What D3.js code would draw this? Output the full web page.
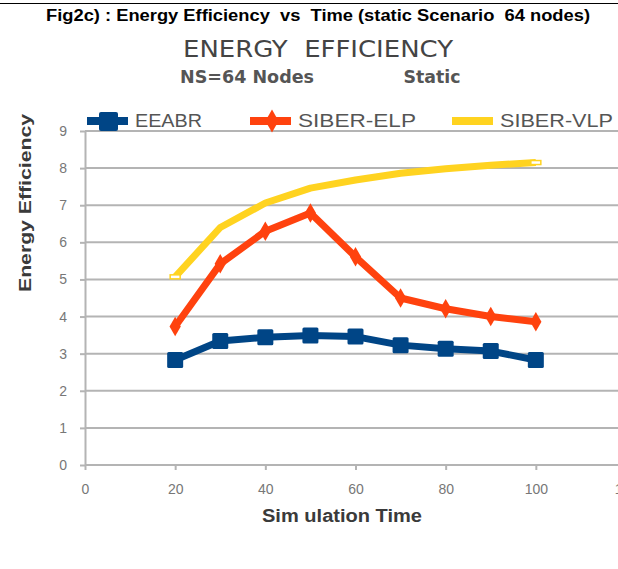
<!DOCTYPE html>
<html>
<head>
<meta charset="utf-8">
<script src="https://cdn.jsdelivr.net/npm/d3@7"></script>
<style>
  html, body { margin: 0; padding: 0; background: #fff; }
  svg { display: block; }
  text { white-space: pre; }
</style>
</head>
<body>
<div id="chart"></div>
<script>
// Simulation time (x) and energy efficiency per protocol
const simTime = [20, 30, 40, 50, 60, 70, 80, 90, 100];
const eeabr   = [2.83, 3.34, 3.44, 3.49, 3.46, 3.23, 3.13, 3.07, 2.83];
const siberElp = [3.73, 5.42, 6.30, 6.79, 5.61, 4.50, 4.21, 4.00, 3.86];
const siberVlp = [5.07, 6.40, 7.06, 7.46, 7.68, 7.86, 7.98, 8.08, 8.15];

const seriesNames = ["EEABR", "SIBER-ELP", "SIBER-VLP"];
const seriesColors = ["#004586", "#ff420e", "#ffd320"];
const xTicks = [0, 20, 40, 60, 80, 100, 120];
const yTicks = [0, 1, 2, 3, 4, 5, 6, 7, 8, 9];

const figTitle = "Fig2c) : Energy Efficiency  vs  Time (static Scenario  64 nodes)";
const chartTitle = "ENERGY  EFFICIENCY";
const subLeft = "NS=64 Nodes";
const subRight = "Static";
const yTitle = "Energy Efficiency";
const xTitle = "Sim ulation Time";

const SANS = "'Liberation Sans', Arial, Helvetica, sans-serif";
const NARROW = "'Liberation Sans Narrow', 'DejaVu Sans Condensed', sans-serif";

const W = 618, H = 569;
const svg = d3.select("#chart").append("svg")
  .attr("width", W).attr("height", H)
  .style("font-family", SANS);

const x = d3.scaleLinear().domain([0, 120]).range([85, 626]);
const y = d3.scaleLinear().domain([0, 9]).range([465, 131]);

// Figure caption with rule above it
svg.append("line").attr("x1", 0).attr("x2", W).attr("y1", 3.5).attr("y2", 3.5)
  .attr("stroke", "#000").attr("stroke-width", 1);
svg.append("text").attr("x", 318).attr("y", 21)
  .attr("text-anchor", "middle").attr("font-weight", "bold").attr("font-size", 16)
  .attr("font-family", SANS).attr("fill", "#000")
  .attr("textLength", 544).attr("lengthAdjust", "spacingAndGlyphs")
  .text(figTitle);

// Chart titles
svg.append("text").attr("x", 318).attr("y", 57)
  .attr("text-anchor", "middle").attr("font-size", 23).attr("fill", "#444")
  .attr("font-family", NARROW)
  .attr("textLength", 270).attr("lengthAdjust", "spacingAndGlyphs")
  .text(chartTitle);
svg.append("text").attr("x", 247).attr("y", 83)
  .attr("text-anchor", "middle").attr("font-size", 18).attr("fill", "#555")
  .attr("font-family", NARROW).attr("font-weight", "bold")
  .attr("textLength", 134).attr("lengthAdjust", "spacingAndGlyphs")
  .text(subLeft);
svg.append("text").attr("x", 432).attr("y", 83)
  .attr("text-anchor", "middle").attr("font-size", 18).attr("fill", "#555")
  .attr("font-family", NARROW).attr("font-weight", "bold")
  .attr("textLength", 57).attr("lengthAdjust", "spacingAndGlyphs")
  .text(subRight);

// Horizontal gridlines
svg.append("g").selectAll("line").data(yTicks.filter(d => d > 0)).join("line")
  .attr("x1", x(0)).attr("x2", x(120))
  .attr("y1", d => y(d)).attr("y2", d => y(d))
  .attr("stroke", "#b4b4b4").attr("stroke-width", 2);

// Axes
const gx = svg.append("g").attr("transform", `translate(0,${y(0)})`)
  .call(d3.axisBottom(x).tickValues(xTicks).tickSize(5).tickSizeOuter(0).tickPadding(14));
const gy = svg.append("g").attr("transform", `translate(${x(0)},0)`)
  .call(d3.axisLeft(y).tickValues(yTicks).tickSize(5).tickSizeOuter(0).tickPadding(13));
[gx, gy].forEach(g => {
  g.select(".domain").attr("stroke", "#b4b4b4").attr("stroke-width", 2);
  g.selectAll(".tick line").attr("stroke", "#b4b4b4").attr("stroke-width", 2);
  g.selectAll(".tick text").attr("fill", "#777").attr("font-size", 14)
    .attr("font-family", SANS);
});
gx.select(".domain").attr("d", `M${x(0)},0H${x(120)}`);

// Axis titles
svg.append("text")
  .attr("transform", `translate(31,203) rotate(-90)`)
  .attr("text-anchor", "middle").attr("font-size", 17).attr("font-weight", "bold")
  .attr("fill", "#3a3a3a")
  .attr("textLength", 178).attr("lengthAdjust", "spacingAndGlyphs")
  .text(yTitle);
svg.append("text").attr("x", 342).attr("y", 522)
  .attr("text-anchor", "middle").attr("font-size", 18).attr("font-weight", "bold")
  .attr("fill", "#3a3a3a")
  .attr("textLength", 160).attr("lengthAdjust", "spacingAndGlyphs")
  .text(xTitle);

// Series lines
const line = d3.line().x(d => x(d[0])).y(d => y(d[1]));
const seriesData = [eeabr, siberElp, siberVlp].map(vals => simTime.map((t, i) => [t, vals[i]]));

const plot = svg.append("g");
[2, 1, 0].forEach(k => {
  plot.append("path").datum(seriesData[k])
    .attr("d", line).attr("fill", "none")
    .attr("stroke", seriesColors[k]).attr("stroke-width", 7)
    .attr("stroke-linejoin", "round");
});

// VLP end caps
plot.selectAll("rect.vlp").data([seriesData[2][0], seriesData[2][seriesData[2].length - 1]]).join("rect")
  .attr("class", "vlp")
  .attr("x", d => x(d[0]) - 5).attr("y", d => y(d[1]) - 2)
  .attr("width", 10).attr("height", 4)
  .attr("fill", "#fff").attr("stroke", seriesColors[2]).attr("stroke-width", 1.5);

// ELP diamonds
const diamond = d3.symbol().type(d3.symbolDiamond).size(110);
plot.selectAll("path.elp").data(seriesData[1]).join("path")
  .attr("class", "elp")
  .attr("transform", d => `translate(${x(d[0])},${y(d[1])})`)
  .attr("d", diamond).attr("fill", seriesColors[1]);

// EEABR squares
plot.selectAll("rect.ee").data(seriesData[0]).join("rect")
  .attr("class", "ee")
  .attr("x", d => x(d[0]) - 8).attr("y", d => y(d[1]) - 8)
  .attr("width", 16).attr("height", 16).attr("rx", 1.5)
  .attr("fill", seriesColors[0]);

// Legend
const legendX = [87, 250, 452];
const legendTextW = [67, 118, 113];
const lg = svg.append("g");
seriesNames.forEach((name, i) => {
  const x0 = legendX[i];
  lg.append("line").attr("x1", x0).attr("x2", x0 + 41)
    .attr("y1", 121).attr("y2", 121)
    .attr("stroke", seriesColors[i]).attr("stroke-width", 8);
  if (i === 0) {
    lg.append("rect").attr("x", x0 + 12).attr("y", 112).attr("width", 19).attr("height", 19)
      .attr("rx", 2).attr("fill", seriesColors[0]);
  } else if (i === 1) {
    lg.append("path").attr("transform", `translate(${x0 + 22},121)`)
      .attr("d", d3.symbol().type(d3.symbolDiamond).size(150)).attr("fill", seriesColors[1]);
  }
  lg.append("text").attr("x", x0 + 48).attr("y", 127)
    .attr("font-size", 18).attr("fill", "#555")
    .attr("textLength", legendTextW[i]).attr("lengthAdjust", "spacingAndGlyphs")
    .text(name);
});
</script>
</body>
</html>
